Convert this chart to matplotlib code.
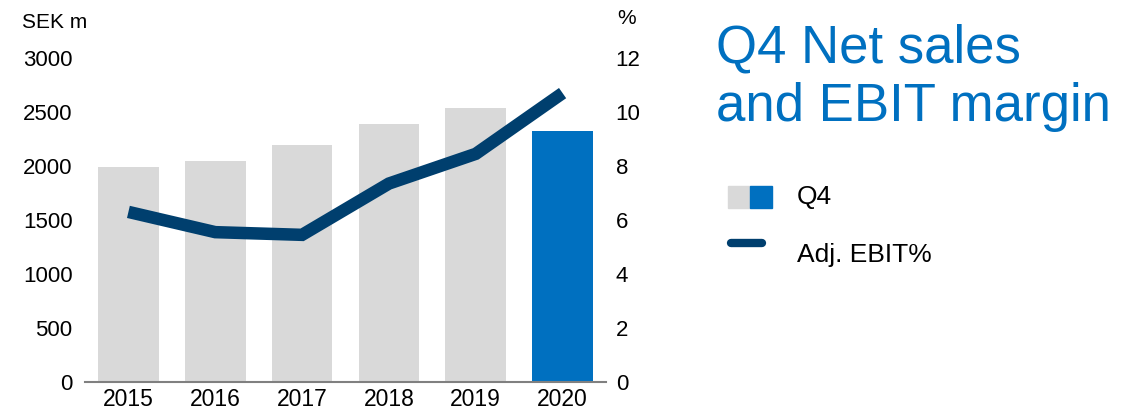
import numpy as np
import matplotlib.pyplot as plt
from matplotlib.patches import Rectangle
from matplotlib.lines import Line2D

plt.rcParams['font.family'] = ['Liberation Sans', 'DejaVu Sans']

# data
years = ['2015', '2016', '2017', '2018', '2019', '2020']
net_sales = [1990, 2050, 2190, 2390, 2535, 2320]   # SEK m, Q4
ebit_pct = [6.3, 5.55, 5.45, 7.35, 8.45, 10.7]     # adj. EBIT %
left_ticks = [0, 500, 1000, 1500, 2000, 2500, 3000]
right_ticks = [0, 2, 4, 6, 8, 10, 12]

grey = '#D9D9D9'
blue = '#0070C0'
navy = '#003F6E'

W, H = 1122, 412
fig = plt.figure(figsize=(W / 100, H / 100), dpi=100)
ax = fig.add_axes([85 / W, 1 - 382 / H, (606 - 85) / W, (382 - 58) / H])

x = np.arange(len(years))
colors = [grey] * (len(years) - 1) + [blue]
ax.bar(x, net_sales, width=0.7, color=colors, zorder=2)
ax.set_xlim(-0.5, len(years) - 0.5)
ax.set_ylim(0, 3000)
ax.set_yticks(left_ticks)
ax.set_xticks(x)
ax.set_xticklabels(years)
ax.tick_params(axis='y', length=0, pad=9, labelsize=16)
ax.tick_params(axis='x', length=0, pad=4, labelsize=16.5)
for s in ['top', 'left', 'right']:
    ax.spines[s].set_visible(False)
ax.spines['bottom'].set_color('#808080')
ax.spines['bottom'].set_linewidth(1.5)
ax.spines['bottom'].set_zorder(3)

ax2 = ax.twinx()
ax2.plot(x, ebit_pct, color=navy, lw=9, solid_capstyle='butt', solid_joinstyle='miter', zorder=4)
ax2.set_ylim(0, 12)
ax2.set_yticks(right_ticks)
ax2.tick_params(axis='y', length=0, pad=7, labelsize=16)
for s in ['top', 'left', 'right', 'bottom']:
    ax2.spines[s].set_visible(False)

# overlay in pixel coordinates for titles and legend
ov = fig.add_axes([0, 0, 1, 1], facecolor='none')
ov.set_xlim(0, W)
ov.set_ylim(H, 0)
ov.axis('off')

ov.text(22, 22, 'SEK m', fontsize=15, va='center', ha='left')
ov.text(617, 18, '%', fontsize=15, va='center', ha='left')

ov.text(716, 23, 'Q4 Net sales\nand EBIT margin', fontsize=38, color=blue,
        va='top', ha='left', linespacing=1.22)

ov.add_patch(Rectangle((728, 186), 22, 22, color=grey))
ov.add_patch(Rectangle((750, 186), 22, 22, color=blue))
ov.text(797, 197, 'Q4', fontsize=19, va='center', ha='left')
ov.add_line(Line2D([731, 762], [243, 243], color=navy, lw=6, solid_capstyle='round'))
ov.text(797, 255, 'Adj. EBIT%', fontsize=19, va='center', ha='left')

fig.savefig('out.png', dpi=100)
